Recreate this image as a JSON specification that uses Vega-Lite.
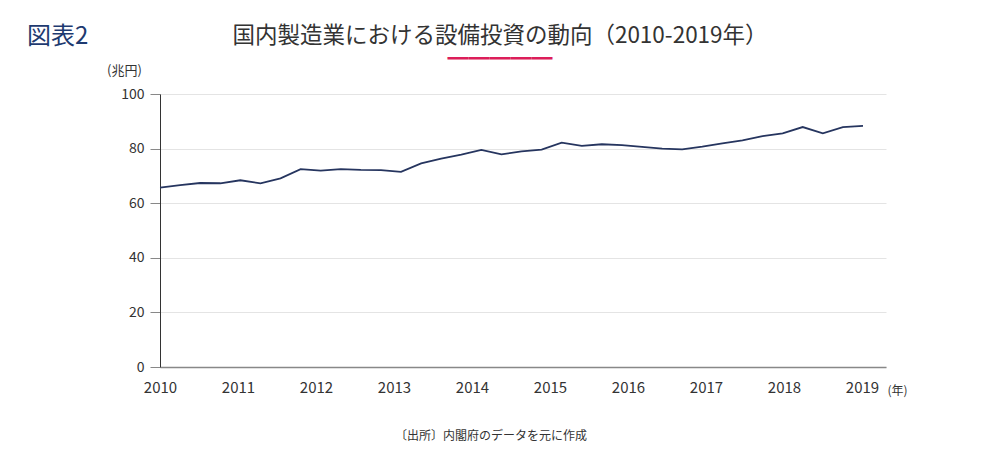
{
  "$schema": "https://vega.github.io/schema/vega-lite/v6.json",
  "autosize": {"type": "none"},
  "width": 726,
  "height": 273,
  "padding": {"left": 160, "top": 94, "right": 114, "bottom": 94},
  "background": "white",
  "config": {
    "font": "Noto Sans CJK JP",
    "view": {"stroke": null}
  },
  "title": {
    "text": "国内製造業における設備投資の動向（2010-2019年）",
    "subtitle": "━━━━━",
    "frame": "group",
    "anchor": "middle",
    "dx": -23,
    "offset": -45,
    "font": "Noto Sans CJK JP",
    "fontSize": 22.5,
    "fontWeight": "normal",
    "color": "#333333",
    "subtitleFont": "Noto Sans CJK JP",
    "subtitleFontSize": 21,
    "subtitleLineHeight": 10,
    "subtitleColor": "#dc1e5a",
    "subtitlePadding": 2
  },
  "datasets": {
    "series": [
      {"t": 2010.000, "v": 65.7},
      {"t": 2010.258, "v": 66.6},
      {"t": 2010.515, "v": 67.4},
      {"t": 2010.773, "v": 67.3},
      {"t": 2011.030, "v": 68.4},
      {"t": 2011.288, "v": 67.3},
      {"t": 2011.545, "v": 69.1},
      {"t": 2011.803, "v": 72.5},
      {"t": 2012.060, "v": 71.9},
      {"t": 2012.318, "v": 72.5},
      {"t": 2012.575, "v": 72.2},
      {"t": 2012.833, "v": 72.1},
      {"t": 2013.090, "v": 71.5},
      {"t": 2013.348, "v": 74.6},
      {"t": 2013.605, "v": 76.3},
      {"t": 2013.863, "v": 77.8},
      {"t": 2014.120, "v": 79.5},
      {"t": 2014.378, "v": 77.9},
      {"t": 2014.635, "v": 79.0},
      {"t": 2014.893, "v": 79.6},
      {"t": 2015.150, "v": 82.2},
      {"t": 2015.408, "v": 81.0},
      {"t": 2015.665, "v": 81.6},
      {"t": 2015.923, "v": 81.3},
      {"t": 2016.180, "v": 80.6},
      {"t": 2016.438, "v": 80.0},
      {"t": 2016.695, "v": 79.7},
      {"t": 2016.953, "v": 80.7},
      {"t": 2017.210, "v": 81.9},
      {"t": 2017.468, "v": 83.0},
      {"t": 2017.725, "v": 84.6},
      {"t": 2017.983, "v": 85.6},
      {"t": 2018.240, "v": 87.9},
      {"t": 2018.498, "v": 85.6},
      {"t": 2018.755, "v": 87.9},
      {"t": 2019.013, "v": 88.3}
    ],
    "notes": [
      {"label": "図表2"}
    ],
    "source": [
      {"label": "〔出所〕内閣府のデータを元に作成"}
    ]
  },
  "layer": [
    {
      "data": {"name": "series"},
      "mark": {"type": "line", "color": "#26355f", "strokeWidth": 1.8, "clip": false},
      "encoding": {
        "x": {
          "field": "t",
          "type": "quantitative",
          "scale": {"domain": [2010, 2019.308], "nice": false, "zero": false},
          "axis": {
            "values": [2010, 2011, 2012, 2013, 2014, 2015, 2016, 2017, 2018, 2019],
            "format": "d",
            "grid": false,
            "ticks": false,
            "domain": true,
            "domainColor": "#888888",
            "domainWidth": 1.5,
            "labelFont": "Noto Sans CJK JP",
            "labelFontSize": 15,
            "labelColor": "#333333",
            "labelPadding": 13,
            "labelFlush": false,
            "title": "(年)",
            "titleFont": "Noto Sans CJK JP",
            "titleFontSize": 12,
            "titleFontWeight": "normal",
            "titleColor": "#333333",
            "titleAlign": "left",
            "titleBaseline": "middle",
            "titleX": 727,
            "titleY": 23
          }
        },
        "y": {
          "field": "v",
          "type": "quantitative",
          "scale": {"domain": [0, 100], "nice": false},
          "axis": {
            "values": [0, 20, 40, 60, 80, 100],
            "grid": true,
            "gridColor": "#e4e4e4",
            "gridWidth": 1,
            "domain": true,
            "domainColor": "#333333",
            "domainWidth": 1,
            "ticks": true,
            "tickSize": 10,
            "tickColor": "#888888",
            "tickWidth": 1,
            "labelFont": "Noto Sans CJK JP",
            "labelFontSize": 14,
            "labelColor": "#333333",
            "labelPadding": 6,
            "title": "(兆円)",
            "titleFont": "Noto Sans CJK JP",
            "titleFontSize": 13,
            "titleFontWeight": "normal",
            "titleColor": "#333333",
            "titleAngle": 0,
            "titleAlign": "center",
            "titleBaseline": "middle",
            "titleX": -36,
            "titleY": -24
          }
        }
      }
    },
    {
      "data": {"name": "notes"},
      "mark": {
        "type": "text",
        "font": "Noto Sans CJK JP",
        "fontSize": 24,
        "color": "#1e3a70",
        "align": "left",
        "baseline": "middle",
        "x": -133,
        "y": -57
      },
      "encoding": {"text": {"field": "label", "type": "nominal"}}
    },
    {
      "data": {"name": "source"},
      "mark": {
        "type": "text",
        "font": "Noto Sans CJK JP",
        "fontSize": 12,
        "color": "#333333",
        "align": "center",
        "baseline": "middle",
        "x": 331,
        "y": 342
      },
      "encoding": {"text": {"field": "label", "type": "nominal"}}
    }
  ]
}
